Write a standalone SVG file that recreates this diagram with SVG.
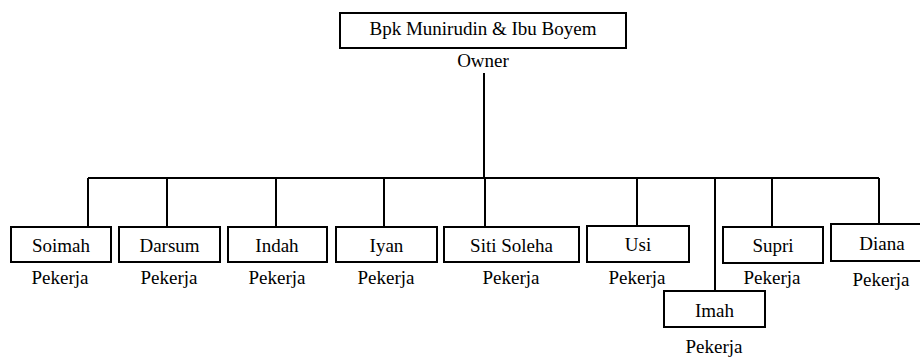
<svg xmlns="http://www.w3.org/2000/svg" width="920" height="357" viewBox="0 0 920 357">
<style>
.box{fill:#fff;stroke:#000;stroke-width:2}
.t{font-family:"Liberation Serif","Times New Roman",serif;font-size:19px;fill:#000;text-anchor:middle}
.c{fill:none;stroke:#000;stroke-width:2}
</style>
<rect width="920" height="357" fill="#fff"/>
<g id="connectors">
<path class="c" d="M484 73V178M88 178H879M88 178V227M167 178V227M276 178V227M384 178V227M485 178V227M637 178V226M715 178V291M772 178V227M879 178V224"/>
</g>
<g id="owner"><rect class="box" x="340" y="13" width="286" height="35"/><text class="t" x="483" y="35">Bpk Munirudin &amp; Ibu Boyem</text><text class="t" x="483" y="67">Owner</text></g>
<g id="soimah"><rect class="box" x="11" y="227" width="100" height="35"/><text class="t" x="61" y="252">Soimah</text><text class="t" x="60" y="284">Pekerja</text></g>
<g id="darsum"><rect class="box" x="119" y="227" width="101" height="35"/><text class="t" x="169.5" y="252">Darsum</text><text class="t" x="169" y="284">Pekerja</text></g>
<g id="indah"><rect class="box" x="228" y="227" width="99" height="35"/><text class="t" x="277" y="252">Indah</text><text class="t" x="277" y="284">Pekerja</text></g>
<g id="iyan"><rect class="box" x="336" y="227" width="101" height="35"/><text class="t" x="386.5" y="252">Iyan</text><text class="t" x="386" y="284">Pekerja</text></g>
<g id="siti"><rect class="box" x="444" y="227" width="135" height="35"/><text class="t" x="511.5" y="252">Siti Soleha</text><text class="t" x="511" y="284">Pekerja</text></g>
<g id="usi"><rect class="box" x="587" y="226" width="102" height="36"/><text class="t" x="638" y="251">Usi</text><text class="t" x="637" y="284">Pekerja</text></g>
<g id="imah"><rect class="box" x="664" y="291" width="101" height="36"/><text class="t" x="714.5" y="317">Imah</text><text class="t" x="714" y="353">Pekerja</text></g>
<g id="supri"><rect class="box" x="723" y="227" width="100" height="36"/><text class="t" x="773" y="252">Supri</text><text class="t" x="772" y="284">Pekerja</text></g>
<g id="diana"><rect class="box" x="831" y="224" width="102" height="37"/><text class="t" x="882" y="250">Diana</text><text class="t" x="881" y="286">Pekerja</text></g>
</svg>
